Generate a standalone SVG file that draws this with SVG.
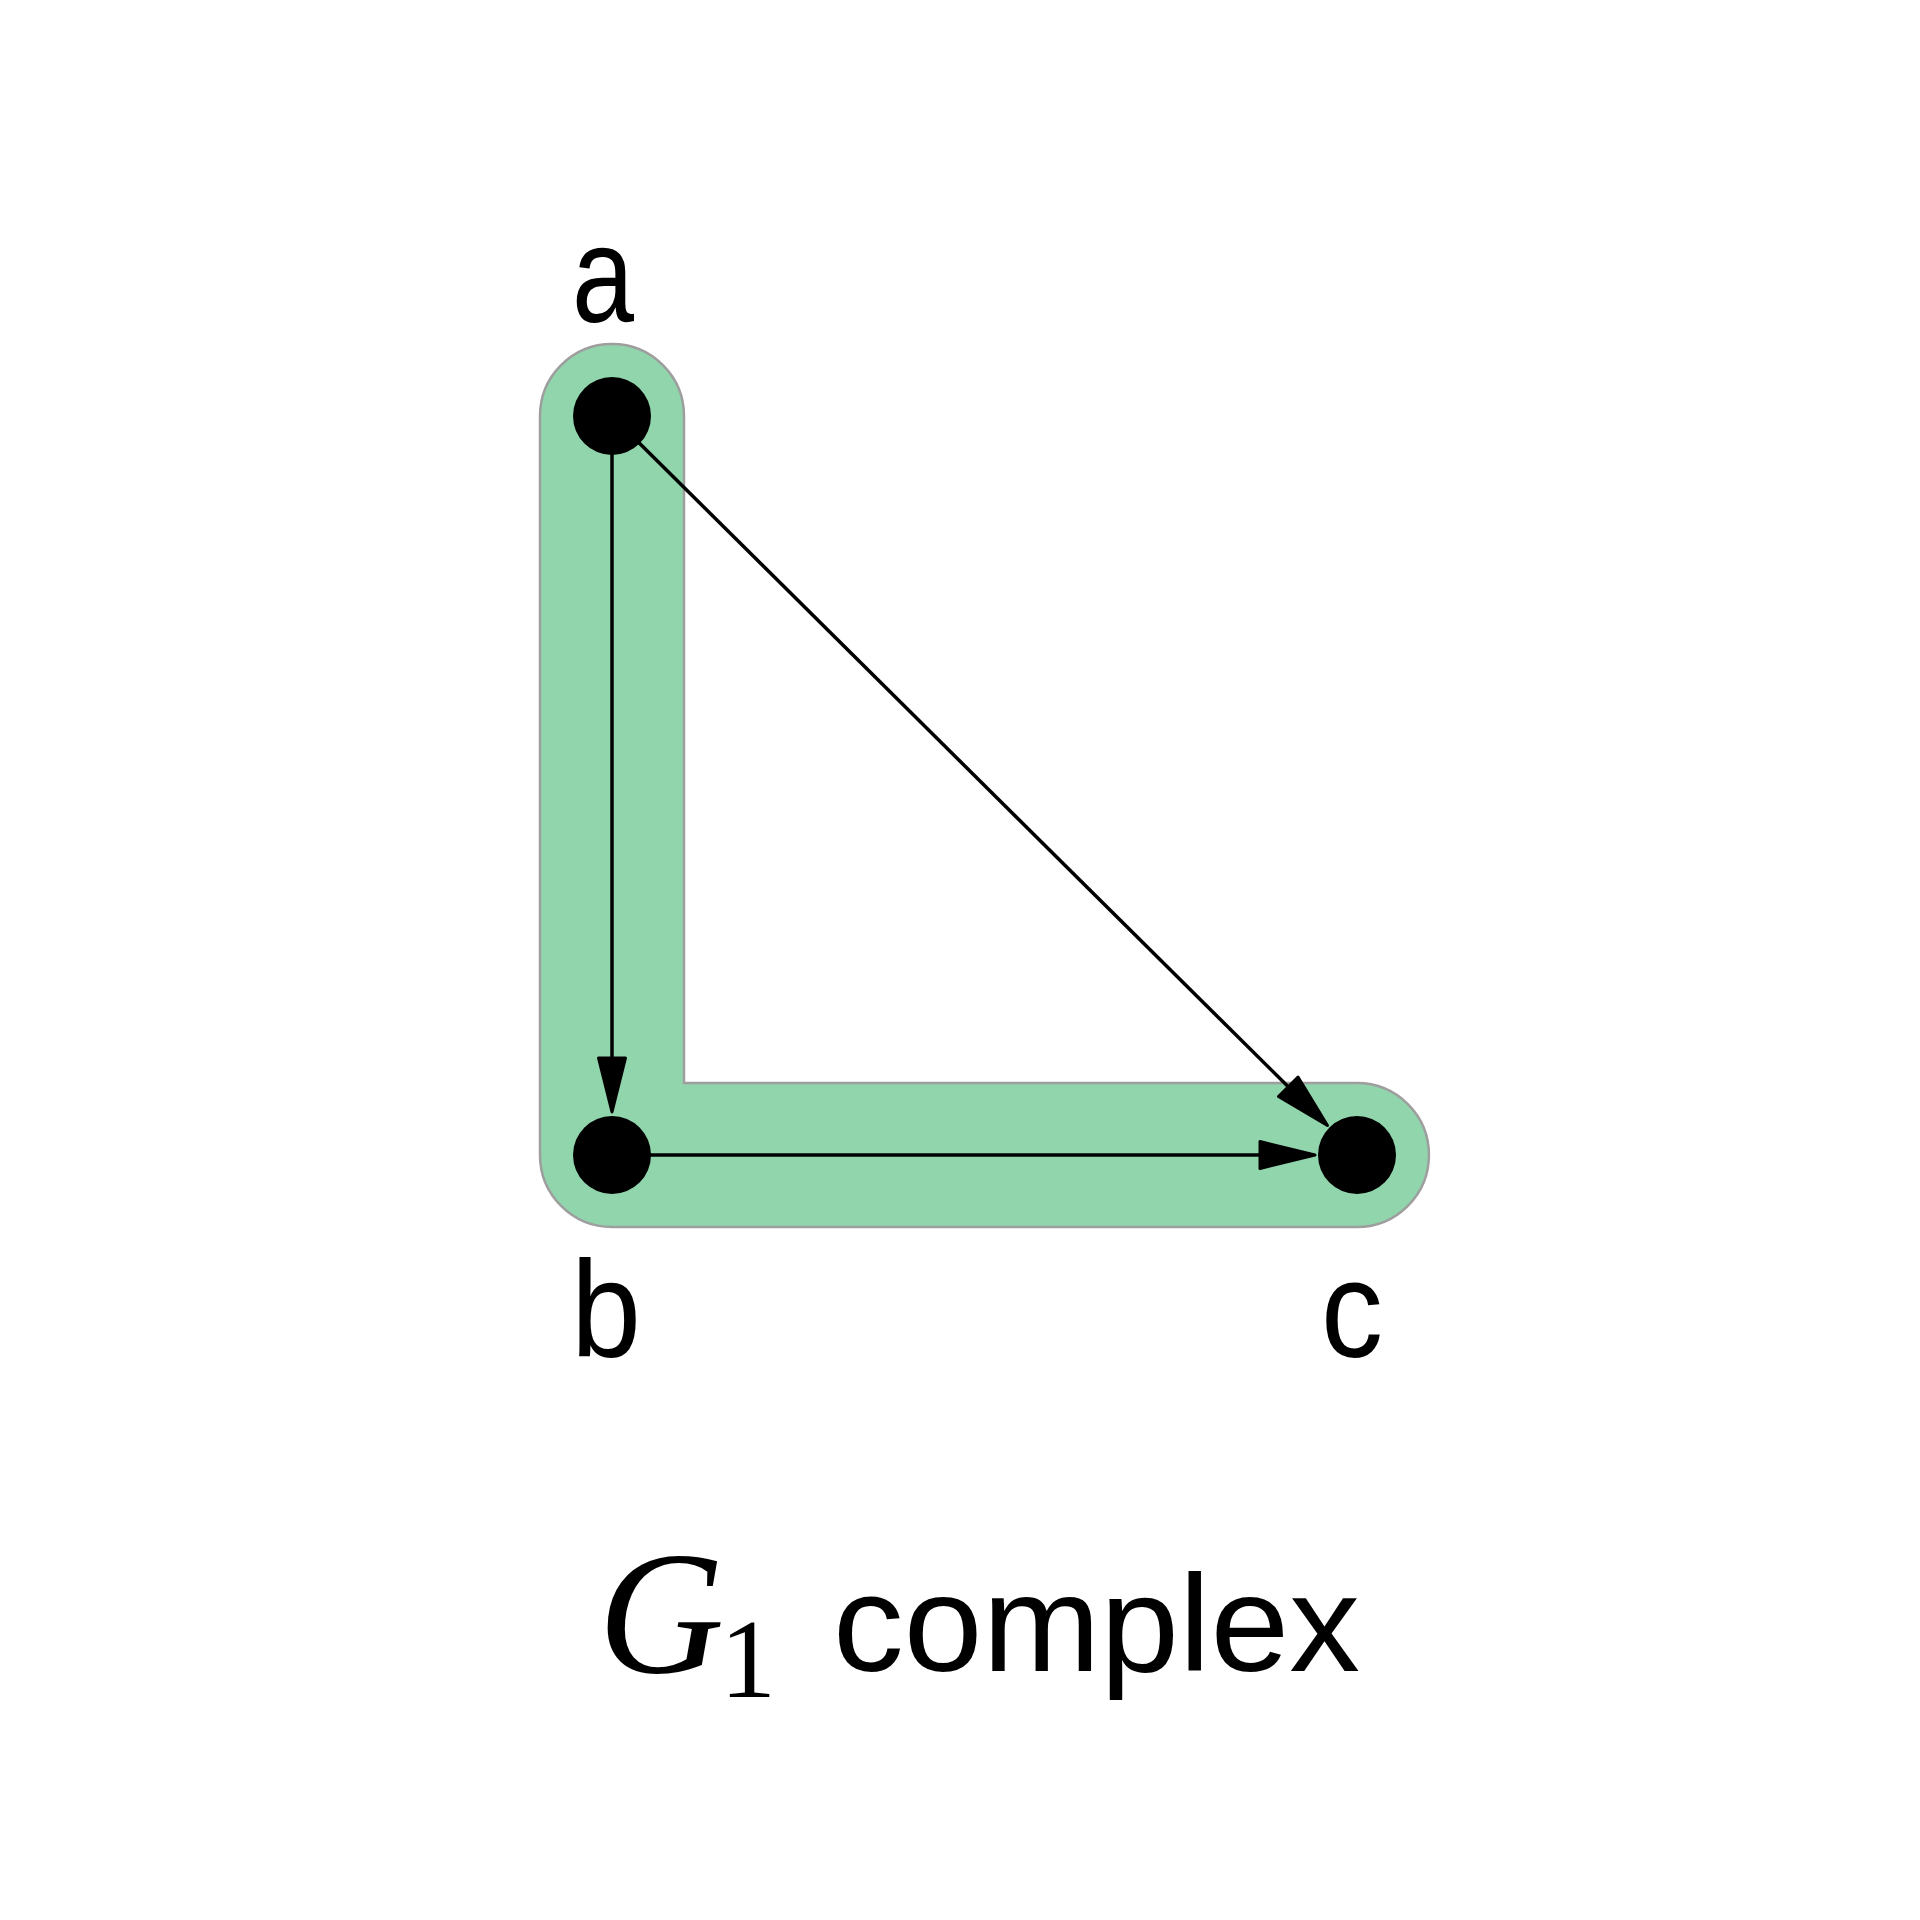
<svg xmlns="http://www.w3.org/2000/svg" width="1920" height="1920" viewBox="0 0 1920 1920">
<style>
.lbl{font-family:"Liberation Sans","DejaVu Sans",sans-serif;font-size:138px;fill:#000}
.edge{stroke:#000;stroke-width:3.5;fill:none}
.head{fill:#000;stroke:#000;stroke-width:3;stroke-linejoin:round}
.node{fill:#000}
</style>
<rect width="1920" height="1920" fill="#fff"/>
<g id="complex-region">
<path d="M540,416 A72,72 0 0 1 684,416 L684,1083 L1357,1083 A72,72 0 0 1 1357,1227 L612,1227 A72,72 0 0 1 540,1155 Z" fill="#91d5ac" stroke="#9e9e9e" stroke-width="2.5"/>
</g>
<g id="connectors">
<line class="edge" x1="612" y1="416" x2="612" y2="1058"/>
<polygon class="head" points="598.5,1058 625.5,1058 612,1112"/>
<line class="edge" x1="612" y1="1155" x2="1260" y2="1155"/>
<polygon class="head" points="1260,1141.5 1260,1168.5 1315,1155"/>
<line class="edge" x1="612" y1="416" x2="1289" y2="1087.5"/>
<polygon class="head" points="1278.5,1096.5 1298,1077 1327.5,1125.5"/>
</g>
<g id="node-a">
<circle class="node" cx="612" cy="416" r="39"/>
<text class="lbl" x="603" y="322" text-anchor="middle" textLength="62" lengthAdjust="spacingAndGlyphs">a</text>
</g>
<g id="node-b">
<circle class="node" cx="612" cy="1155" r="39"/>
<text class="lbl" x="606" y="1357" text-anchor="middle" textLength="70" lengthAdjust="spacingAndGlyphs">b</text>
</g>
<g id="node-c">
<circle class="node" cx="1357" cy="1155" r="39"/>
<text class="lbl" x="1352" y="1357" text-anchor="middle" textLength="62" lengthAdjust="spacingAndGlyphs">c</text>
</g>
<g id="title">
<text x="598" y="1672" font-family="'Liberation Serif','DejaVu Serif',serif" font-style="italic" font-size="175">G</text>
<text x="720" y="1697" font-family="'Liberation Serif','DejaVu Serif',serif" font-size="112">1</text>
<text class="lbl" x="833" y="1671" textLength="527" lengthAdjust="spacingAndGlyphs">complex</text>
</g>
</svg>
